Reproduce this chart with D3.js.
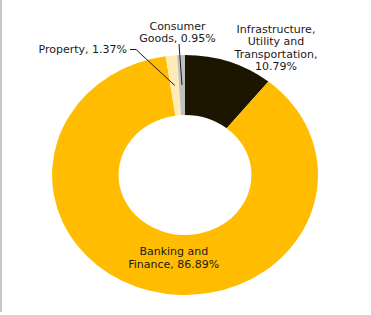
<!DOCTYPE html>
<html>
<head>
<meta charset="utf-8">
<script src="https://cdn.jsdelivr.net/npm/d3@7"></script>
<style>
  html, body { margin: 0; padding: 0; background: #ffffff; }
  svg { display: block; }
  text { font-family: "DejaVu Sans", sans-serif; font-size: 11px; fill: #1a1a1a; }
</style>
</head>
<body>
<svg id="chart" width="371" height="315"></svg>
<script>
// ---- data ----
const categories = ["Infrastructure, Utility and Transportation", "Banking and Finance", "Property", "Consumer Goods"];
const shares = [10.79, 86.89, 1.37, 0.95];
const labelLines = [
  ["Infrastructure,", "Utility and", "Transportation,", "10.79%"],
  ["Banking and", "Finance, 86.89%"],
  ["Property, 1.37%"],
  ["Consumer", "Goods, 0.95%"]
];

// ---- styling / layout ----
const colors = ["#1c1600", "#ffbc00", "#ffebb5", "#c0c0c0"];
const W = 371, H = 315;
const cx = 185, cy = 175, rOuter = 120, rInner = 60, xStretch = 1.108;
const lineH = 12.4;
const labelLayout = [
  { x: 276, y: 32.8, anchor: "middle" },
  { x: 173.8, y: 255, anchor: "middle", lh: 13.2 },
  { x: 127, y: 53.3, anchor: "end", leader: [[130, 49.5], [136, 49.5]] },
  { x: 177.5, y: 29.5, anchor: "middle", leader: [[179, 44]] }
];

const svg = d3.select("#chart");

// left border line
svg.append("rect").attr("x", 0).attr("y", 0).attr("width", 2).attr("height", 312).attr("fill", "#c8c8c8");

const data = categories.map((c, i) => ({ cat: c, value: shares[i], i }));
const pie = d3.pie().value(d => d.value).sort(null).startAngle(0).endAngle(2 * Math.PI);
const arcs = pie(data);
const arc = d3.arc().innerRadius(rInner).outerRadius(rOuter);

const g = svg.append("g").attr("transform", `translate(${cx},${cy}) scale(${xStretch},1)`);
g.selectAll("path").data(arcs).join("path")
  .attr("d", arc)
  .attr("fill", d => colors[d.data.i]);

// leader lines
arcs.forEach(a => {
  const L = labelLayout[a.data.i];
  if (!L.leader) return;
  const c = arc.centroid(a);
  const end = [cx + c[0] * xStretch, cy + c[1]];
  const pts = L.leader.concat([end]);
  svg.append("path")
    .attr("d", d3.line()(pts))
    .attr("fill", "none")
    .attr("stroke", "#1a1a1a")
    .attr("stroke-width", 1);
});

// labels
labelLines.forEach((lines, i) => {
  const L = labelLayout[i];
  const t = svg.append("text").attr("text-anchor", L.anchor);
  lines.forEach((s, k) => {
    t.append("tspan").attr("x", L.x).attr("y", L.y + k * (L.lh || lineH)).text(s);
  });
});
</script>
</body>
</html>
